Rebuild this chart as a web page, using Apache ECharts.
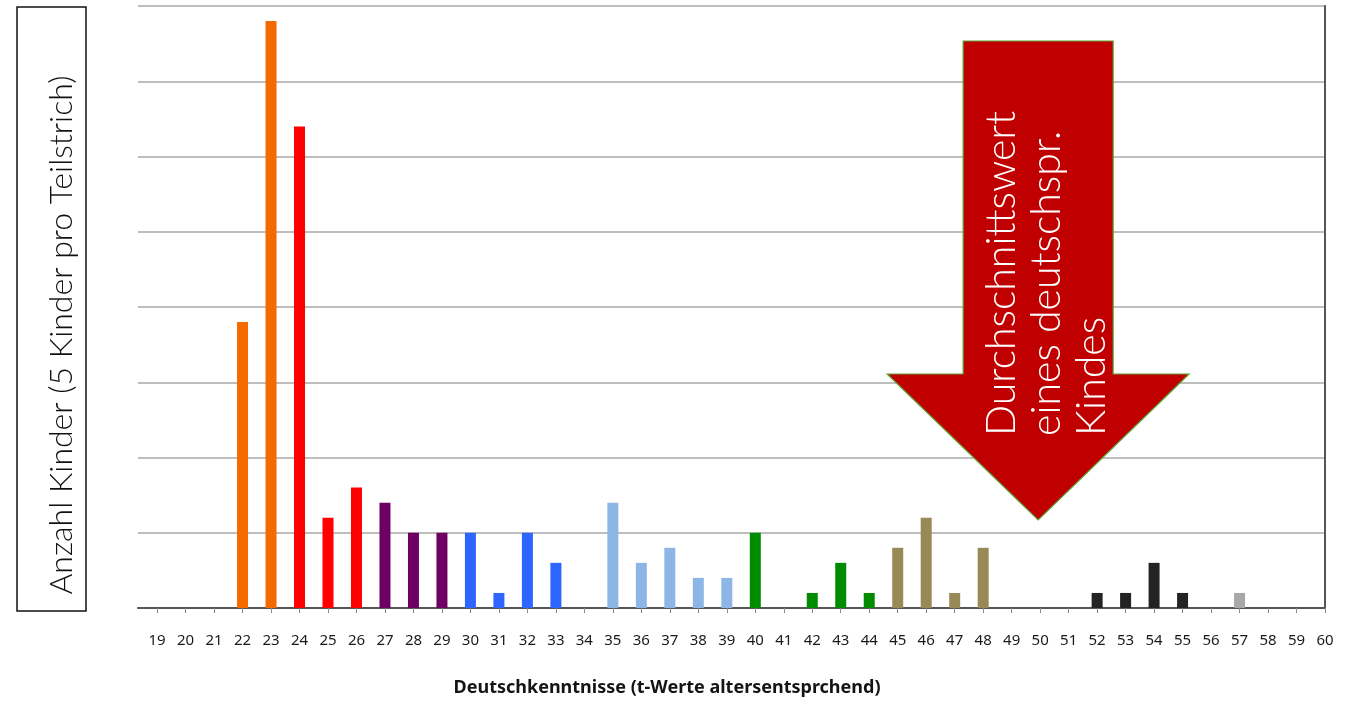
<!DOCTYPE html>
<html>
<head>
<meta charset="utf-8">
<title>Deutschkenntnisse</title>
<script src="https://cdn.jsdelivr.net/npm/echarts@6/dist/echarts.min.js"></script>
<style>
  html, body { margin: 0; padding: 0; background: #fff; }
  #chart { width: 1360px; height: 716px; }
</style>
</head>
<body>
<div id="chart"></div>
<script>
// t-Werte (Deutschkenntnisse, altersentsprechend)
const scores = [19, 20, 21, 22, 23, 24, 25, 26, 27, 28, 29, 30, 31, 32, 33, 34, 35, 36, 37, 38, 39, 40,
                41, 42, 43, 44, 45, 46, 47, 48, 49, 50, 51, 52, 53, 54, 55, 56, 57, 58, 59, 60];
// Anzahl Kinder je t-Wert
const counts = [0, 0, 0, 19, 39, 32, 6, 8, 7, 5, 5, 5, 1, 5, 3, 0, 7, 3, 4, 2, 2, 5,
                0, 1, 3, 1, 4, 6, 1, 4, 0, 0, 0, 1, 1, 3, 1, 0, 1, 0, 0, 0];
// Farbgruppe je t-Wert
const groupOf = ['o', 'o', 'o', 'o', 'o', 'r', 'r', 'r', 'p', 'p', 'p', 'b', 'b', 'b', 'b', 'b', 'l', 'l', 'l', 'l', 'l', 'g',
                 'g', 'g', 'g', 'g', 'k', 'k', 'k', 'k', 'k', 'k', 'k', 's', 's', 's', 's', 's', 'a', 'a', 'a', 'a'];
const groupColors = {
  o: '#F56A00', r: '#FF0000', p: '#6F0063', b: '#2F65FF', l: '#8DB6E6',
  g: '#008C00', k: '#988A57', s: '#232323', a: '#A8A8A8'
};
const meanScore = 50;
const yTitle = 'Anzahl Kinder (5 Kinder pro Teilstrich)';
const xTitle = 'Deutschkenntnisse (t-Werte altersentsprchend)';
const arrowLines = ['Durchschnittswert', 'eines deutschspr.', 'Kindes'];

const chart = echarts.init(document.getElementById('chart'), null, { renderer: 'canvas' });

const barData = scores.map((s, i) => ({
  value: [s, counts[i]],
  itemStyle: { color: groupColors[groupOf[i]] }
}));

chart.setOption({
  animation: false,
  backgroundColor: '#ffffff',
  grid: { left: 138, right: 35, top: 6, bottom: 108, containLabel: false },
  xAxis: [{
    type: 'value',
    min: 18.33,
    max: 60,
    axisLine: { show: true, onZero: false, lineStyle: { color: '#8a8a8a', width: 1.5 } },
    axisTick: { show: true, customValues: scores, length: 5, lineStyle: { color: '#8a8a8a', width: 1 } },
    axisLabel: {
      show: true, customValues: scores, margin: 25,
      color: '#1a1a1a', fontSize: 15, fontFamily: 'Noto Sans'
    },
    splitLine: { show: false }
  }, {
    type: 'value',
    position: 'top',
    min: 18.33,
    max: 60,
    axisLine: { show: true, lineStyle: { color: '#555', width: 2 } },
    axisTick: { show: false },
    axisLabel: { show: false },
    splitLine: { show: false }
  }],
  yAxis: [{
    type: 'value',
    min: 0,
    max: 40,
    interval: 5,
    axisLine: { show: false },
    axisTick: { show: false },
    axisLabel: { show: false },
    splitLine: { show: true, lineStyle: { color: '#a9a9a9', width: 1.5 } }
  }, {
    type: 'value',
    position: 'right',
    min: 0,
    max: 40,
    axisLine: { show: true, lineStyle: { color: '#555', width: 2 } },
    axisTick: { show: false },
    axisLabel: { show: false },
    splitLine: { show: false }
  }],
  series: [{
    type: 'bar',
    xAxisIndex: 0,
    yAxisIndex: 0,
    barWidth: 11,
    data: barData
  }]
});

// Pfeil auf den Durchschnittswert, Achsentitel
const tip = chart.convertToPixel({ xAxisIndex: 0, yAxisIndex: 0 }, [meanScore, 0]);
const cx = tip[0] - 2;
const shaftHalf = 75, headHalf = 151, topY = 41, headY = 374, tipY = 520;

const arrowText = arrowLines.map((t, i) => ({
  type: 'text',
  x: cx - 36 + i * 45,
  y: 436,
  rotation: Math.PI / 2,
  z: 12,
  style: {
    text: t,
    fill: '#ffffff',
    font: '300 41px Lato, "Open Sans", sans-serif',
    textAlign: 'left',
    textVerticalAlign: 'middle'
  }
}));

chart.setOption({
  graphic: [
    {
      type: 'polygon',
      z: 10,
      shape: {
        points: [
          [cx - shaftHalf, topY], [cx + shaftHalf, topY], [cx + shaftHalf, headY],
          [cx + headHalf, headY], [cx, tipY], [cx - headHalf, headY], [cx - shaftHalf, headY]
        ]
      },
      style: { fill: '#C00000', stroke: '#5FA033', lineWidth: 1.2 }
    },
    ...arrowText,
    {
      type: 'rect',
      z: 10,
      shape: { x: 17, y: 7, width: 69, height: 604 },
      style: { fill: 'none', stroke: '#111', lineWidth: 1.5 }
    },
    {
      type: 'text',
      x: 62,
      y: 335,
      rotation: Math.PI / 2,
      z: 11,
      style: {
        text: yTitle,
        fill: '#111',
        font: '300 32px Lato, "Open Sans", sans-serif',
        textAlign: 'center',
        textVerticalAlign: 'middle'
      }
    },
    {
      type: 'text',
      x: 667,
      y: 688,
      z: 11,
      style: {
        text: xTitle,
        fill: '#141414',
        font: 'bold 18px "Noto Sans", sans-serif',
        textAlign: 'center',
        textVerticalAlign: 'middle'
      }
    }
  ]
});
</script>
</body>
</html>
